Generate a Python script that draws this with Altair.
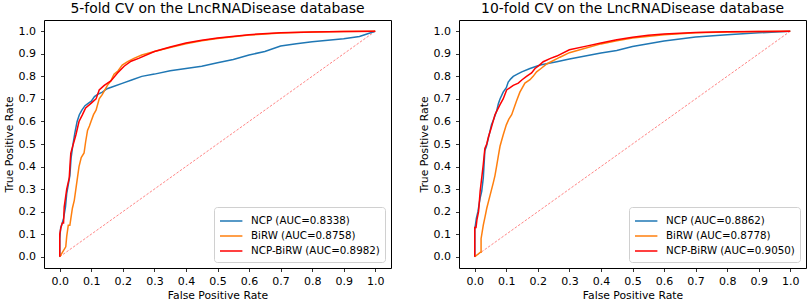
import altair as alt
import pandas as pd

methods = ["NCP", "BiRW", "NCP-BiRW"]
colors = ["#1f77b4", "#ff7f0e", "#ff0000"]
auc_5fold = [0.8338, 0.8758, 0.8982]
auc_10fold = [0.8862, 0.8778, 0.9050]
title_5fold = "5-fold CV on the LncRNADisease database"
title_10fold = "10-fold CV on the LncRNADisease database"
tick_values = [0.0, 0.1, 0.2, 0.3, 0.4, 0.5, 0.6, 0.7, 0.8, 0.9, 1.0]
diag_x = [0.0, 1.0]
diag_y = [0.0, 1.0]

# ---- 5-fold CV curves ----
ncp5_fpr = [0, 0, 0.003, 0.008, 0.012, 0.018, 0.022, 0.027, 0.032, 0.036, 0.042, 0.048, 0.055,
            0.062, 0.07, 0.08, 0.09, 0.1, 0.11, 0.12, 0.135, 0.15, 0.17, 0.2, 0.23, 0.26, 0.3,
            0.35, 0.4, 0.45, 0.5, 0.55, 0.6, 0.65, 0.7, 0.75, 0.8, 0.85, 0.9, 0.95, 1.0]
ncp5_tpr = [0, 0.08, 0.13, 0.15, 0.17, 0.22, 0.28, 0.32, 0.36, 0.44, 0.5, 0.55, 0.6,
            0.63, 0.65, 0.67, 0.68, 0.69, 0.71, 0.72, 0.73, 0.745, 0.755, 0.77, 0.785, 0.8, 0.81,
            0.825, 0.835, 0.845, 0.86, 0.875, 0.895, 0.91, 0.935, 0.945, 0.953, 0.96, 0.967, 0.977, 1.0]

birw5_fpr = [0, 0.019, 0.022, 0.027, 0.032, 0.04, 0.046, 0.051, 0.056, 0.061, 0.068, 0.077, 0.082,
             0.088, 0.094, 0.099, 0.107, 0.115, 0.125, 0.135, 0.151, 0.162, 0.172, 0.185, 0.198,
             0.215, 0.235, 0.26, 0.3, 0.35, 0.4, 0.45, 0.5, 0.6, 0.7, 0.8, 0.9, 1.0]
birw5_tpr = [0, 0.044, 0.09, 0.14, 0.14, 0.215, 0.25, 0.30, 0.35, 0.40, 0.44, 0.46, 0.51,
             0.56, 0.58, 0.60, 0.63, 0.65, 0.70, 0.72, 0.76, 0.78, 0.81, 0.825, 0.85,
             0.865, 0.88, 0.895, 0.91, 0.928, 0.945, 0.958, 0.968, 0.983, 0.992, 0.997, 0.999, 1.0]

both5_fpr = [0, 0, 0.003, 0.008, 0.012, 0.014, 0.018, 0.022, 0.03, 0.033, 0.035, 0.043, 0.051,
             0.061, 0.072, 0.082, 0.099, 0.115, 0.125, 0.141, 0.162, 0.183, 0.204, 0.226, 0.25,
             0.3, 0.35, 0.4, 0.45, 0.5, 0.6, 0.7, 0.8, 0.9, 1.0]
both5_tpr = [0, 0.1, 0.125, 0.15, 0.15, 0.22, 0.26, 0.3, 0.35, 0.42, 0.46, 0.5, 0.54,
             0.6, 0.63, 0.66, 0.68, 0.70, 0.74, 0.76, 0.78, 0.815, 0.845, 0.867, 0.88,
             0.91, 0.93, 0.948, 0.96, 0.97, 0.985, 0.993, 0.997, 0.999, 1.0]

# ---- 10-fold CV curves ----
ncp10_fpr = [0, 0, 0.005, 0.01, 0.017, 0.022, 0.027, 0.032, 0.037, 0.043, 0.053, 0.06, 0.069,
             0.075, 0.08, 0.09, 0.1, 0.106, 0.115, 0.122, 0.135, 0.149, 0.175, 0.207, 0.26, 0.3,
             0.35, 0.4, 0.45, 0.5, 0.55, 0.6, 0.7, 0.8, 0.9, 1.0]
ncp10_tpr = [0, 0.12, 0.17, 0.2, 0.26, 0.29, 0.35, 0.47, 0.49, 0.525, 0.585, 0.61, 0.645,
             0.68, 0.70, 0.73, 0.75, 0.775, 0.79, 0.80, 0.81, 0.82, 0.835, 0.85, 0.865, 0.877,
             0.89, 0.904, 0.915, 0.932, 0.945, 0.957, 0.975, 0.985, 0.993, 1.0]

birw10_fpr = [0, 0.018, 0.02, 0.02, 0.027, 0.033, 0.038, 0.048, 0.059, 0.064, 0.069, 0.075, 0.08,
              0.09, 0.1, 0.108, 0.117, 0.132, 0.143, 0.159, 0.175, 0.185, 0.196, 0.21, 0.228,
              0.27, 0.3, 0.35, 0.4, 0.45, 0.5, 0.6, 0.7, 0.8, 0.9, 1.0]
birw10_tpr = [0, 0.02, 0.02, 0.08, 0.14, 0.18, 0.215, 0.27, 0.33, 0.36, 0.40, 0.45, 0.49,
              0.54, 0.585, 0.61, 0.63, 0.69, 0.73, 0.77, 0.785, 0.80, 0.82, 0.835, 0.855,
              0.885, 0.905, 0.925, 0.944, 0.958, 0.97, 0.985, 0.993, 0.997, 0.999, 1.0]

both10_fpr = [0, 0, 0.004, 0.007, 0.012, 0.017, 0.022, 0.027, 0.032, 0.038, 0.043, 0.053, 0.064,
              0.08, 0.09, 0.101, 0.112, 0.122, 0.138, 0.15, 0.164, 0.18, 0.191, 0.205, 0.217,
              0.24, 0.26, 0.3, 0.35, 0.4, 0.45, 0.5, 0.55, 0.6, 0.7, 0.8, 0.9, 1.0]
both10_tpr = [0, 0.13, 0.13, 0.165, 0.2, 0.29, 0.35, 0.41, 0.48, 0.5, 0.53, 0.575, 0.63,
              0.675, 0.70, 0.74, 0.75, 0.76, 0.77, 0.785, 0.80, 0.815, 0.835, 0.85, 0.865,
              0.88, 0.89, 0.918, 0.933, 0.948, 0.962, 0.973, 0.982, 0.988, 0.995, 0.998, 0.999, 1.0]


def panel(title, curves, aucs):
    labels = [f"{m} (AUC={a:.4f})" for m, a in zip(methods, aucs)]
    xs = alt.Scale(domain=[-0.05, 1.05], nice=False, zero=False)
    ys = alt.Scale(domain=[-0.05, 1.05], nice=False, zero=False)
    xax = alt.Axis(values=tick_values, format=".1f", title="False Positive Rate")
    yax = alt.Axis(values=tick_values, format=".1f", title="True Positive Rate")

    diag = alt.Chart(pd.DataFrame({"fpr": diag_x, "tpr": diag_y})).mark_line(
        color="#ff3030", strokeWidth=0.8, strokeDash=[2.5, 1.6], opacity=0.75
    ).encode(
        x=alt.X("fpr:Q", scale=xs, axis=xax),
        y=alt.Y("tpr:Q", scale=ys, axis=yax),
    )
    layers = [diag]
    for lab, (fx, ty) in zip(labels, curves):
        df = pd.DataFrame({"fpr": fx, "tpr": ty, "label": lab, "idx": list(range(len(fx)))})
        layers.append(
            alt.Chart(df).mark_line(strokeWidth=1.5).encode(
                x=alt.X("fpr:Q", scale=xs, axis=xax),
                y=alt.Y("tpr:Q", scale=ys, axis=yax),
                color=alt.Color("label:N", scale=alt.Scale(domain=labels, range=colors),
                                legend=alt.Legend(title=None)),
                order=alt.Order("idx:Q"),
            )
        )
    return alt.layer(*layers).properties(width=347, height=248, title=alt.Title(title))


left = panel(title_5fold,
             [(ncp5_fpr, ncp5_tpr), (birw5_fpr, birw5_tpr), (both5_fpr, both5_tpr)],
             auc_5fold)
right = panel(title_10fold,
              [(ncp10_fpr, ncp10_tpr), (birw10_fpr, birw10_tpr), (both10_fpr, both10_tpr)],
              auc_10fold)

chart = alt.hconcat(left, right, spacing=68, bounds="flush").resolve_scale(
    color="independent"
).properties(
    padding={"left": 2, "top": 1, "right": 2, "bottom": 0},
    background="white",
).configure_view(
    stroke="black", strokeWidth=1
).configure_axis(
    domain=False, grid=False, tickColor="black", tickSize=3.5, tickWidth=0.8,
    labelColor="black", labelFont="DejaVu Sans", labelFontSize=11, labelPadding=5,
    titleFont="DejaVu Sans", titleFontSize=10.8, titleFontWeight="normal", titleColor="black",
    titlePadding=4,
).configure_axisX(
    labelPadding=3.5, titlePadding=3,
).configure_title(
    font="DejaVu Sans", fontSize=13.9, fontWeight="normal", color="black", offset=4, anchor="middle",
).configure_legend(
    orient="bottom-right", offset=6, padding=5, strokeColor="#d0d0d0", fillColor="white",
    cornerRadius=3, symbolType="M-1,0H1.8", symbolSize=256, symbolStrokeWidth=1.5,
    labelFont="DejaVu Sans", labelFontSize=10.3, labelColor="black", labelOffset=14,
    rowPadding=0, labelLimit=300,
)

chart.save("out.html", embed_options={"renderer": "svg", "actions": False})
